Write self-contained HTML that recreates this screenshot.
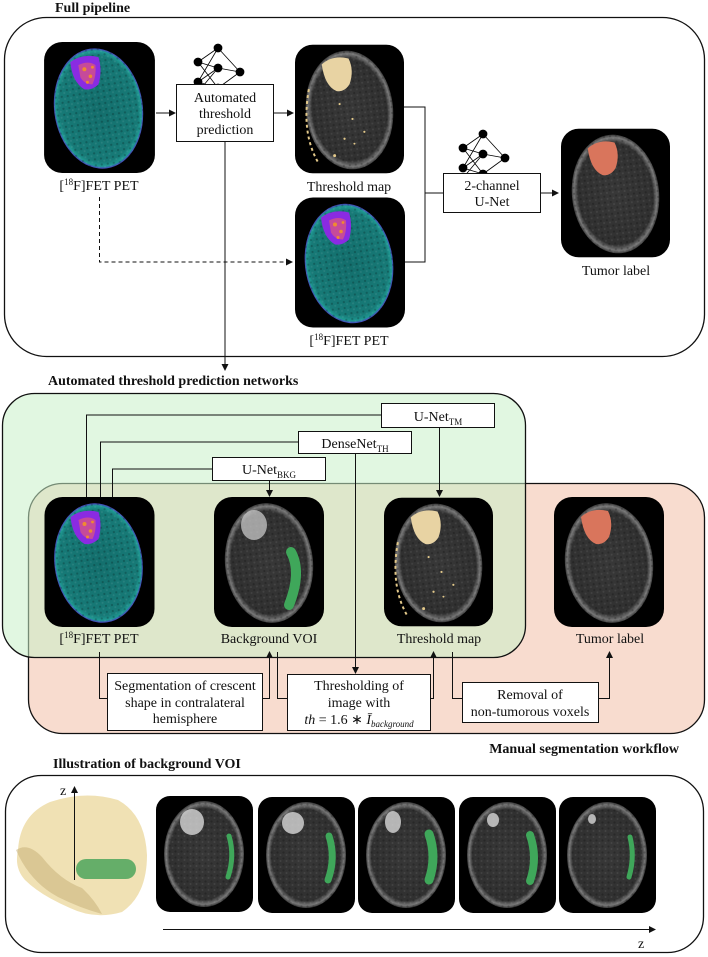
<!DOCTYPE html>
<html><head><meta charset="utf-8"><style>
html,body{margin:0;padding:0;background:#fff}
svg{display:block}
text{font-family:"Liberation Serif",serif;fill:#111}
.b{font-weight:bold;font-size:14px}
.t{font-size:14px}
</style></head><body>
<svg width="708" height="957" viewBox="0 0 708 957" xmlns="http://www.w3.org/2000/svg">
<defs>
<marker id="ar" markerWidth="8" markerHeight="8" refX="6" refY="4" orient="auto" markerUnits="userSpaceOnUse"><path d="M0,0.5 L7,4 L0,7.5 z" fill="#111"/></marker>
<pattern id="noise" width="6" height="6" patternUnits="userSpaceOnUse"><rect width="6" height="6" fill="none"/><circle cx="1.5" cy="1.5" r="1.1" fill="#000" opacity=".22"/><circle cx="4.5" cy="4" r="1" fill="#fff" opacity=".08"/></pattern>
<radialGradient id="gray" cx="50%" cy="50%" r="50%"><stop offset="0" stop-color="#383838"/><stop offset=".86" stop-color="#303030"/><stop offset=".95" stop-color="#777"/><stop offset="1" stop-color="#3a3a3a"/></radialGradient>
<radialGradient id="teal" cx="50%" cy="50%" r="50%"><stop offset="0" stop-color="#136e6c"/><stop offset=".88" stop-color="#177a77"/><stop offset=".96" stop-color="#1f9a93"/><stop offset="1" stop-color="#4a3fc0"/></radialGradient>
<symbol id="pet" viewBox="0 0 110 130"><rect width="110" height="130" rx="18" fill="#000"/><ellipse cx="54" cy="66" rx="44" ry="60" transform="rotate(-8 54 66)" fill="url(#teal)"/><ellipse cx="54" cy="66" rx="44" ry="60" transform="rotate(-8 54 66)" fill="url(#noise)"/><path d="M26,20 Q38,11 54,15 Q58,28 54,42 Q48,48 40,47 Q28,40 26,20z" fill="#8a2be2"/><path d="M34,23 Q44,18 51,23 Q52,34 48,42 Q40,42 36,35z" fill="#c64a9a"/><g fill="#f08a30"><circle cx="40" cy="27" r="2"/><circle cx="46" cy="34" r="1.8"/><circle cx="43" cy="40" r="1.5"/><circle cx="48" cy="25" r="1.4"/></g></symbol>
<symbol id="gry" viewBox="0 0 110 130"><rect width="110" height="130" rx="18" fill="#000"/><ellipse cx="55" cy="66" rx="44" ry="60" transform="rotate(-6 55 66)" fill="url(#gray)"/><ellipse cx="55" cy="66" rx="44" ry="60" transform="rotate(-6 55 66)" fill="url(#noise)"/></symbol>
<symbol id="thr" viewBox="0 0 110 130"><use href="#gry" width="110" height="130"/><path d="M27,20 Q38,10 54,14 Q60,26 55,40 Q50,48 42,47 Q30,42 27,20z" fill="#e8d3a3"/><g fill="#e3c98a"><circle cx="45" cy="60" r="1.1"/><circle cx="58" cy="75" r="1.1"/><circle cx="50" cy="95" r="1.1"/><circle cx="70" cy="88" r="1.1"/><circle cx="40" cy="112" r="1.5"/><circle cx="60" cy="100" r="1"/></g><path d="M14,45 Q6,90 24,120" stroke="#e3c98a" stroke-width="2" fill="none" stroke-dasharray="3 3"/></symbol>
<symbol id="tum" viewBox="0 0 110 130"><use href="#gry" width="110" height="130"/><path d="M27,20 Q38,10 54,14 Q60,26 55,40 Q50,48 42,47 Q30,42 27,20z" fill="#d9755c"/></symbol>
<symbol id="voi" viewBox="0 0 110 130"><use href="#gry" width="110" height="130"/><ellipse cx="40" cy="28" rx="13" ry="15" fill="#c8c8c8" opacity=".75"/><path d="M77,55 Q88,75 75,108" stroke="#3fa75a" stroke-width="10" stroke-linecap="round" fill="none"/></symbol>
<symbol id="sl" viewBox="0 0 97 116"><rect width="97" height="116" rx="14" fill="#000"/><ellipse cx="48" cy="58" rx="40" ry="53" fill="url(#gray)"/><ellipse cx="48" cy="58" rx="40" ry="53" fill="url(#noise)"/></symbol>
<g id="nn" fill="#000" stroke="#000" stroke-width=".8"><g><line x1="0" y1="14" x2="20" y2="0"/><line x1="0" y1="14" x2="20" y2="20"/><line x1="0" y1="14" x2="20" y2="40"/><line x1="0" y1="34" x2="20" y2="0"/><line x1="0" y1="34" x2="20" y2="20"/><line x1="0" y1="34" x2="20" y2="40"/><line x1="0" y1="44" x2="20" y2="20"/><line x1="20" y1="0" x2="42" y2="24"/><line x1="20" y1="20" x2="42" y2="24"/><line x1="20" y1="40" x2="42" y2="24"/></g><circle cx="0" cy="14" r="4"/><circle cx="0" cy="34" r="4"/><circle cx="20" cy="0" r="4"/><circle cx="20" cy="20" r="4"/><circle cx="20" cy="40" r="4"/><circle cx="42" cy="24" r="4"/></g>
</defs>

<text x="55" y="12" class="b">Full pipeline</text>
<rect x="4.5" y="17.5" width="700" height="339" rx="42" fill="none" stroke="#111" stroke-width="1.3"/>
<use href="#pet" x="44" y="42" width="111" height="131"/>
<text x="99" y="190" class="t" text-anchor="middle">[<tspan font-size="9" dy="-5">18</tspan><tspan dy="5">F]FET PET</tspan></text>
<use href="#nn" x="198" y="48"/>
<rect x="176.5" y="84.5" width="97" height="57" fill="#fff" stroke="#111"/>
<text x="225" y="102" class="t" text-anchor="middle">Automated</text>
<text x="225" y="118" class="t" text-anchor="middle">threshold</text>
<text x="225" y="134" class="t" text-anchor="middle">prediction</text>
<line x1="156" y1="113" x2="175" y2="113" stroke="#111" marker-end="url(#ar)"/>
<line x1="274" y1="113" x2="293" y2="113" stroke="#111" marker-end="url(#ar)"/>
<use href="#thr" x="295" y="43" width="109" height="132"/>
<text x="349" y="191" class="t" text-anchor="middle">Threshold map</text>
<use href="#pet" x="295" y="197" width="110" height="131"/>
<text x="349" y="345" class="t" text-anchor="middle">[<tspan font-size="9" dy="-5">18</tspan><tspan dy="5">F]FET PET</tspan></text>
<polyline points="404,107 425,107 425,262 405,262" fill="none" stroke="#111"/>
<line x1="425" y1="193" x2="443" y2="193" stroke="#111"/>
<use href="#nn" x="463" y="134"/>
<rect x="443.5" y="173.5" width="97" height="39" fill="#fff" stroke="#111"/>
<text x="492" y="190" class="t" text-anchor="middle">2-channel</text>
<text x="492" y="206" class="t" text-anchor="middle">U-Net</text>
<line x1="541" y1="193" x2="558" y2="193" stroke="#111" marker-end="url(#ar)"/>
<use href="#tum" x="561" y="128" width="109" height="130"/>
<text x="616" y="275" class="t" text-anchor="middle">Tumor label</text>
<polyline points="99.5,197 99.5,262 292,262" fill="none" stroke="#111" stroke-dasharray="4 3" marker-end="url(#ar)"/>
<line x1="225" y1="142" x2="225" y2="370" stroke="#111" marker-end="url(#ar)"/>

<text x="48" y="385" class="b">Automated threshold prediction networks</text>
<rect x="28.5" y="483.5" width="676" height="250" rx="34" fill="#f8dccf" stroke="#111" stroke-width="1.3"/>
<rect x="2.5" y="393.5" width="523" height="264" rx="32" fill="rgb(200,240,200)" fill-opacity=".55" stroke="#111" stroke-width="1.3"/>
<rect x="381.5" y="403.5" width="113" height="24" fill="#fff" stroke="#111"/>
<text x="438" y="421" class="t" text-anchor="middle">U-Net<tspan font-size="9" dy="4">TM</tspan></text>
<rect x="298.5" y="431.5" width="113" height="22" fill="#fff" stroke="#111"/>
<text x="355" y="448" class="t" text-anchor="middle">DenseNet<tspan font-size="9" dy="4">TH</tspan></text>
<rect x="212.5" y="457.5" width="113" height="23" fill="#fff" stroke="#111"/>
<text x="269" y="474" class="t" text-anchor="middle">U-Net<tspan font-size="9" dy="4">BKG</tspan></text>
<polyline points="381,415 86.5,415 86.5,497" fill="none" stroke="#111"/>
<polyline points="298,442 100.5,442 100.5,497" fill="none" stroke="#111"/>
<polyline points="212,469 112.5,469 112.5,497" fill="none" stroke="#111"/>
<line x1="269.5" y1="481" x2="269.5" y2="496" stroke="#111" marker-end="url(#ar)"/>
<line x1="439.5" y1="428" x2="439.5" y2="496" stroke="#111" marker-end="url(#ar)"/>
<line x1="355.5" y1="454" x2="355.5" y2="673" stroke="#111" marker-end="url(#ar)"/>
<use href="#pet" x="44" y="497" width="111" height="130"/>
<use href="#voi" x="214" y="497" width="110" height="130"/>
<use href="#thr" x="384" y="497" width="109" height="130"/>
<use href="#tum" x="554" y="497" width="110" height="130"/>
<text x="99" y="643" class="t" text-anchor="middle">[<tspan font-size="9" dy="-5">18</tspan><tspan dy="5">F]FET PET</tspan></text>
<text x="269" y="643" class="t" text-anchor="middle">Background VOI</text>
<text x="439" y="643" class="t" text-anchor="middle">Threshold map</text>
<text x="610" y="643" class="t" text-anchor="middle">Tumor label</text>
<rect x="107.5" y="673.5" width="155" height="57" fill="#fff" stroke="#111"/>
<text x="185" y="690" class="t" text-anchor="middle">Segmentation of crescent</text>
<text x="185" y="707" class="t" text-anchor="middle">shape in contralateral</text>
<text x="185" y="723" class="t" text-anchor="middle">hemisphere</text>
<rect x="287.5" y="674.5" width="143" height="56" fill="#fff" stroke="#111"/>
<text x="359" y="690" class="t" text-anchor="middle">Thresholding of</text>
<text x="359" y="707" class="t" text-anchor="middle">image with</text>
<text x="359" y="724" class="t" text-anchor="middle" font-size="12"><tspan font-style="italic">th</tspan> = 1.6 ∗ <tspan font-style="italic">Ī</tspan><tspan font-style="italic" font-size="9" dy="3">background</tspan></text>
<rect x="462.5" y="682.5" width="136" height="40" fill="#fff" stroke="#111"/>
<text x="530" y="699" class="t" text-anchor="middle">Removal of</text>
<text x="530" y="716" class="t" text-anchor="middle">non-tumorous voxels</text>
<polyline points="99.5,652 99.5,698.5 107,698.5" fill="none" stroke="#111"/>
<polyline points="263,698.5 269.5,698.5 269.5,652" fill="none" stroke="#111" marker-end="url(#ar)"/>
<polyline points="277.5,652 277.5,698.5 287,698.5" fill="none" stroke="#111"/>
<polyline points="431,698.5 433.5,698.5 433.5,652" fill="none" stroke="#111" marker-end="url(#ar)"/>
<polyline points="452.5,652 452.5,698.5 462,698.5" fill="none" stroke="#111"/>
<polyline points="599,698.5 609.5,698.5 609.5,652" fill="none" stroke="#111" marker-end="url(#ar)"/>
<text x="679" y="753" class="b" text-anchor="end">Manual segmentation workflow</text>

<text x="53" y="768" class="b">Illustration of background VOI</text>
<rect x="5.5" y="775.5" width="698" height="177" rx="36" fill="none" stroke="#111" stroke-width="1.3"/>
<path d="M18,850 Q20,815 50,802 Q85,790 118,800 Q145,815 147,855 Q147,895 122,912 Q95,920 70,908 Q40,895 25,880 Q14,868 18,850z" fill="#efdfb0" opacity=".95"/>
<path d="M16,850 Q28,842 42,857 Q60,880 82,888 Q95,900 102,914 Q80,908 58,897 Q30,882 16,850z" fill="#c9b27a" opacity=".55"/>
<rect x="76" y="859" width="60" height="20" rx="10" fill="#55a860" opacity=".9"/>
<line x1="74.5" y1="880" x2="74.5" y2="787" stroke="#111" marker-end="url(#ar)"/>
<text x="60" y="795" class="t">z</text>
<use href="#sl" x="156" y="796" width="97" height="116"/>
<use href="#sl" x="258" y="797" width="97" height="116"/>
<use href="#sl" x="358" y="797" width="97" height="116"/>
<use href="#sl" x="459" y="797" width="97" height="116"/>
<use href="#sl" x="559" y="797" width="97" height="116"/>
<g fill="#d8d8d8" opacity=".8"><ellipse cx="192" cy="822" rx="12" ry="13"/><ellipse cx="293" cy="823" rx="11" ry="11"/><ellipse cx="393" cy="822" rx="8" ry="11"/><ellipse cx="493" cy="820" rx="6" ry="7"/><ellipse cx="592" cy="819" rx="4" ry="5"/></g>
<g stroke="#3fa75a" stroke-linecap="round" fill="none"><path d="M229,836 Q235,856 228,877" stroke-width="5"/><path d="M329,836 Q336,858 328,880" stroke-width="7"/><path d="M429,834 Q437,857 429,880" stroke-width="9"/><path d="M530,835 Q538,858 530,881" stroke-width="8"/><path d="M630,837 Q635,857 629,877" stroke-width="5"/></g>
<line x1="163" y1="929.5" x2="655" y2="929.5" stroke="#111" marker-end="url(#ar)"/>
<text x="638" y="948" class="t">z</text>
</svg>
</body></html>
